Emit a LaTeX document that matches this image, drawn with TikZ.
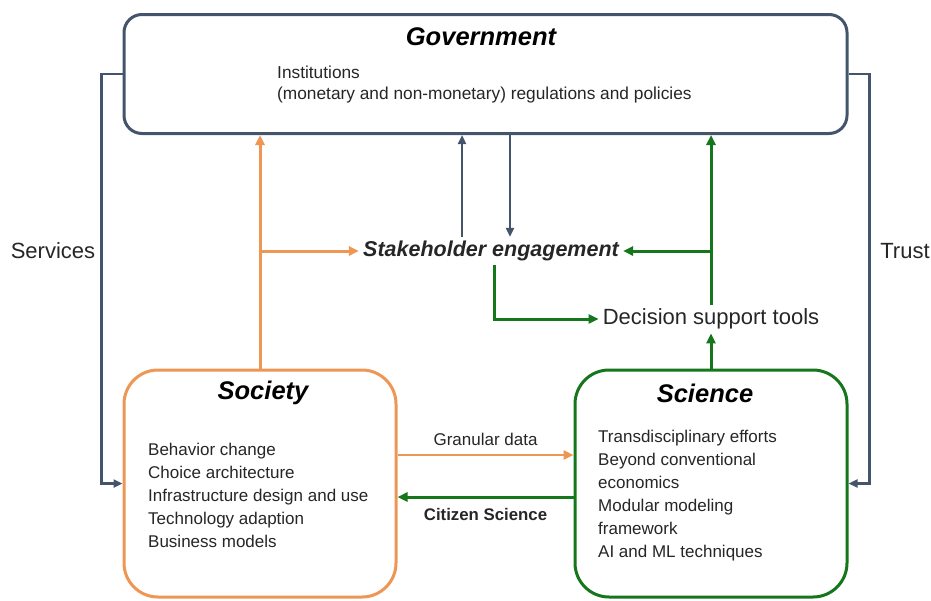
\documentclass[tikz,border=0pt]{standalone}
\usepackage{fontspec}
\setmainfont{Liberation Sans}
\usetikzlibrary{arrows.meta}

\definecolor{govgray}{RGB}{68,84,106}
\definecolor{socorange}{RGB}{238,150,84}
\definecolor{scigreen}{RGB}{22,118,28}

\begin{document}
\begin{tikzpicture}[x=1pt, y=-1pt,
    box/.style={line width=3pt, fill=white},
    title/.style={font=\fontsize{25.5}{30}\selectfont\bfseries\itshape, inner sep=1pt},
    items/.style={font=\fontsize{17}{23}\selectfont, align=left, anchor=west, inner sep=1pt, text=black!85},
    biglabel/.style={font=\fontsize{22}{26}\selectfont, inner sep=4pt, text=black!85},
    govarrow/.style={line width=2.4pt, govgray, -{Triangle[length=9pt, width=8pt]}},
    socarrow/.style={line width=3pt, socorange, -{Triangle[length=10pt, width=9pt]}},
    sciarrow/.style={line width=3pt, scigreen, -{Triangle[length=10pt, width=9pt]}}
]
\useasboundingbox (0,0) rectangle (931,600);

% The three actors
\node[box, draw=govgray, rounded corners=18pt, minimum width=723pt, minimum height=119pt] (gov) at (485.5,74) {};
\node[box, draw=socorange, rounded corners=34pt, minimum width=272pt, minimum height=227pt] (soc) at (260,483.5) {};
\node[box, draw=scigreen, rounded corners=34pt, minimum width=272pt, minimum height=227pt] (sci) at (711,483.5) {};

% Titles and contents
\node[title] (govtitle) at (481,37) {Government};
\node[items, font=\fontsize{17.3}{21}\selectfont] (govtext) at (276,84.5)
    {Institutions\\(monetary and non-monetary) regulations and policies};

\node[title] (soctitle) at (263,393) {Society};
\node[items] (soctext) at (147,495.5)
    {Behavior change\\Choice architecture\\Infrastructure design and use\\Technology adaption\\Business models};

\node[title] (scititle) at (705,393) {Science};
\node[items] (scitext) at (597,495.5)
    {Transdisciplinary efforts\\Beyond conventional\\economics\\Modular modeling\\framework\\AI and ML techniques};

% Middle nodes
\node[biglabel, font=\fontsize{21.5}{26}\selectfont\bfseries\itshape] (stake) at (491,251) {Stakeholder engagement};
\node[biglabel] (dst) at (711,319) {Decision support tools};

% Side labels
\node[biglabel] (services) at (53,251) {Services};
\node[biglabel] (trust) at (905,251) {Trust};

% Services and trust loops
\draw[govarrow] (gov.west) -- ++(-21,0) |- (soc.west);
\draw[govarrow] (gov.east) -- ++(21,0) |- (sci.east);

% Government <-> stakeholder engagement
\draw[govarrow] ([xshift=-29pt]stake.north) -- ([xshift=-29pt]stake.north |- gov.south);
\draw[govarrow] ([xshift=19pt]stake.north |- gov.south) -- ([xshift=19pt]stake.north);

% Society side
\draw[socarrow] (soc.north) -- (soc.north |- gov.south);
\draw[socarrow] (soc.north |- stake.west) -- (stake.west);

% Science side
\draw[sciarrow] (sci.north) -- (dst.south);
\draw[sciarrow] (dst.north) -- (dst.north |- gov.south);
\draw[sciarrow] (dst.north |- stake.east) -- (stake.east);
\draw[sciarrow] ([xshift=3pt]stake.south) |- (dst.west);

% Society <-> science
\draw[socarrow, line width=2.6pt] ([yshift=28.5pt]soc.east) -- node[above=5pt, font=\fontsize{17}{20}\selectfont, text=black!85] (granular) {Granular data} ([yshift=28.5pt]sci.west);
\draw[sciarrow] ([yshift=-13.5pt]sci.west) -- node[below=6pt, font=\fontsize{16.8}{20}\selectfont\bfseries, text=black!85] (citizen) {Citizen Science} ([yshift=-13.5pt]soc.east);

\end{tikzpicture}
\end{document}
